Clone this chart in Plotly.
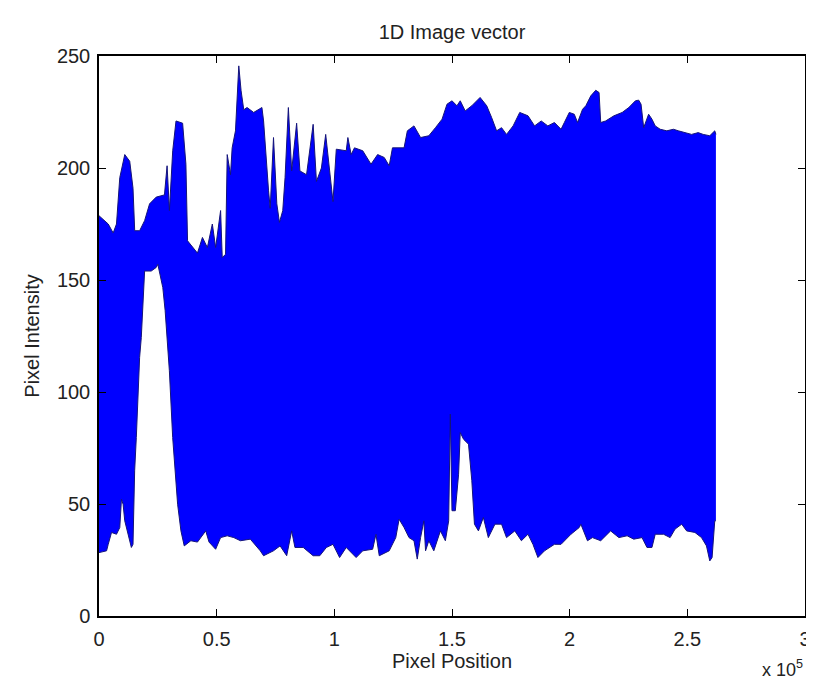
import plotly.graph_objects as go

# Upper envelope of the 1D image vector (pixel position, intensity)
x_upper = [0, 3920, 6025, 7430, 8830, 10950, 13060, 14450, 15170, 17270, 19380, 21490, 24300,
           27810, 28930, 29920, 31320, 32720, 35530, 36930, 37630, 39740, 41840, 43950, 46050,
           48160, 49560, 51670, 52370, 53770, 54480, 55880, 56580, 57990, 59400, 60380, 61510,
           62910, 65720, 69230, 69940, 72050, 72750, 74150, 75560, 76680, 78080, 79060, 80470,
           81870, 83980, 85380, 88190, 91000, 92400, 94510, 96330, 98010, 99420, 100830, 105050,
           105750, 107150, 108560, 112070, 115580, 118390, 121200, 123310, 124710, 129630, 131030,
           133840, 136650, 140160, 142970, 145780, 147890, 149990, 152100, 153500, 155610, 158420,
           161930, 164740, 166850, 168950, 171060, 173170, 175970, 178780, 182290, 185100, 187910,
           190720, 193530, 196340, 197740, 199850, 201960, 203360, 205470, 206870, 208980, 211080,
           212490, 213190, 215300, 218810, 222320, 225130, 227940, 229340, 230330, 231450, 233550,
           234960, 236360, 238470, 241280, 244090, 246190, 249000, 251810, 254620, 256730, 259540,
           261650, 262144]
upper = [178.7, 175, 171, 175, 195.7, 206, 203, 191, 172, 172, 176.5, 184, 187,
         188, 201, 181, 207.7, 221, 220, 201.7, 167.5, 164.5, 162, 169, 164.5,
         175, 164.5, 181, 160, 161.5, 206, 197, 209, 216.6, 245.6, 234.5, 226,
         227, 224.8, 227, 221, 189.8, 182, 213.6, 184, 175.7, 181, 195.7, 227,
         198.7, 220, 198.7, 197, 219.5, 194, 200, 215, 198.7, 185, 208.4, 207.7,
         213.6, 206, 209, 207.7, 201.7, 206, 204.7, 201, 209, 209, 216.6,
         218.8, 213.6, 214.4, 218, 221.8, 228.5, 230, 227.8, 230, 225.5, 227.8,
         231.5, 227.8, 222.5, 216.6, 218, 215, 218.8, 224.8, 223.3, 218.8, 221,
         218.8, 220.3, 217.3, 220.3, 224.8, 224, 220.3, 226.2, 227.8, 232.2, 234.7,
         233.7, 220.3, 221, 223.3, 224.8, 227, 230, 230.3, 228.5, 218, 224,
         221.8, 218.8, 217.3, 216.6, 217.3, 216.6, 215.8, 215, 215.8, 215, 214.4,
         216.6, 215]

# Lower envelope of the 1D image vector
x_lower = [0, 1800, 3217, 3919, 5323, 7430, 8835, 9537, 10240, 10940, 12350, 13750, 14450,
           15150, 15860, 16560, 17260, 17970, 18670, 19380, 22190, 24300, 25000, 25700, 27110,
           28100, 29220, 29900, 31310, 32710, 33410, 34820, 36220, 39030, 41840, 45350, 46760,
           49560, 51670, 54480, 57290, 60100, 64310, 68530, 69930, 74140, 76950, 79760, 81870,
           83270, 86790, 91000, 93810, 96620, 99430, 102240, 105050, 109260, 112070, 116280,
           117690, 119090, 123310, 126110, 127520, 129630, 131730, 133840, 135240, 136650,
           138050, 138760, 140160, 142270, 145080, 147180, 148590, 149290, 149990, 151410,
           152800, 153500, 154910, 157010, 158420, 159540, 161230, 163330, 165440, 168250,
           171060, 173170, 176680, 179490, 182290, 184400, 186510, 189320, 193530, 196340,
           200550, 204060, 204760, 207570, 209680, 213190, 217400, 220910, 224420, 227230,
           230750, 232850, 234960, 236360, 239870, 242680, 244790, 247600, 249710, 253220,
           256030, 258130, 259540, 260520, 261650, 262144]
lower = [28.3, 28.6, 29.1, 32, 37.3, 36.5, 39.5, 52.1, 49.9, 42.5, 36.5, 30.6, 32,
         64.8, 79.7, 97.5, 115.4, 124.3, 139.2, 154, 154, 155.6, 157, 154, 146.6,
         136.4, 122, 109.5, 79.7, 61.8, 49.9, 38, 31.3, 33.6, 33, 38, 33,
         29.8, 35, 35.8, 35, 33.6, 34.3, 29.1, 26.9, 29.1, 31.3, 26.9, 38,
         30.6, 30.6, 26.9, 26.9, 30.6, 32, 26.1, 30.6, 26.1, 29.1, 29.8,
         36.5, 26.9, 29.1, 35, 43.2, 39.5, 35, 33.6, 25.4, 35,
         42.5, 29.1, 33.6, 29.1, 38, 33.6, 42.5, 90.1, 47, 47,
         63.3, 81.9, 78.9, 76.7, 60.4, 41, 38, 44, 35, 41,
         41, 35, 38, 33.6, 36.5, 32, 26.1, 29.1, 32, 32,
         36.5, 39.5, 41, 33.6, 35, 33.6, 38, 35, 35.8, 34.3,
         35, 30.6, 30.6, 36.5, 36.5, 35, 38.8, 41, 38, 37.3,
         35, 31.3, 24.6, 26.1, 42.5, 42.5]

x_tick_vals = [0, 50000, 100000, 150000, 200000, 250000, 300000]
x_tick_text = ["0", "0.5", "1", "1.5", "2", "2.5", "3"]
y_tick_vals = [0, 50, 100, 150, 200, 250]

FONT = "Liberation Sans, Arial, sans-serif"
TXT = "#222222"
BLUE = "#0000ff"
EDGE = "#14147a"

fig = go.Figure()
fig.add_trace(go.Scatter(x=x_lower, y=lower, mode="lines",
                         line=dict(color=EDGE, width=1), hoverinfo="skip", showlegend=False))
fig.add_trace(go.Scatter(x=x_upper, y=upper, mode="lines", fill="tonexty", fillcolor=BLUE,
                         line=dict(color=EDGE, width=1), hoverinfo="skip", showlegend=False))

axis_common = dict(showline=True, linecolor="black", linewidth=1.5, mirror="allticks",
                   ticks="inside", ticklen=7, tickwidth=1, tickcolor="black",
                   showgrid=False, zeroline=False,
                   tickfont=dict(family=FONT, size=20, color=TXT))

fig.update_layout(
    width=814, height=678,
    margin=dict(l=91, r=11, t=48, b=70),
    paper_bgcolor="white", plot_bgcolor="white",
    font=dict(family=FONT, size=20, color=TXT),
    title=dict(text="1D Image vector", x=0.5, xref="paper", xanchor="center",
               y=1 - 24 / 678, yref="container", yanchor="middle",
               font=dict(family=FONT, size=20, color=TXT)),
    xaxis=dict(range=[0, 300000], tickvals=x_tick_vals, ticktext=x_tick_text,
               title=dict(text="Pixel Position", standoff=5,
                          font=dict(family=FONT, size=20, color=TXT)),
               ticklabelstandoff=4, **axis_common),
    yaxis=dict(range=[0, 250], tickvals=y_tick_vals,
               title=dict(text="Pixel Intensity", standoff=12,
                          font=dict(family=FONT, size=20, color=TXT)),
               ticklabelstandoff=3, **axis_common),
    annotations=[dict(text="x 10<sup>5</sup>", xref="paper", yref="paper",
                      x=0.998, y=-0.072, xanchor="right", yanchor="top", showarrow=False,
                      borderpad=0, font=dict(family=FONT, size=18, color=TXT))],
)

fig.write_html("out.html")
